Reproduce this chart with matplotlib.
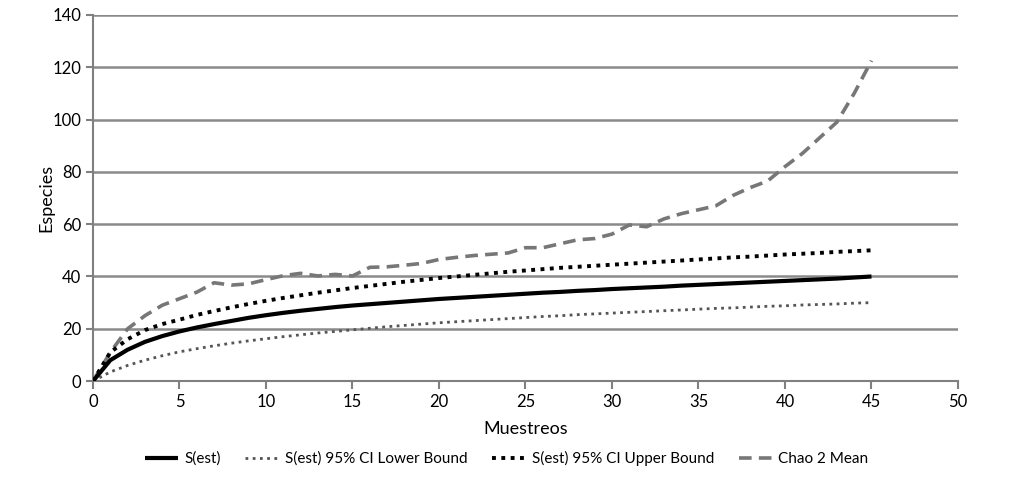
import matplotlib
matplotlib.use("Agg")
import matplotlib.pyplot as plt
from matplotlib import font_manager

samples = list(range(0, 46))
s_est = [0, 8, 12, 15, 17.2, 19, 20.5, 21.8, 23, 24.2, 25.2, 26.1, 26.9, 27.6, 28.3, 28.9,
         29.4, 29.9, 30.4, 30.9, 31.4, 31.8, 32.2, 32.6, 33, 33.4, 33.8, 34.1, 34.5, 34.8,
         35.2, 35.5, 35.8, 36.1, 36.5, 36.8, 37.1, 37.4, 37.7, 38, 38.3, 38.6, 38.9, 39.2,
         39.6, 40]
lower = [0, 3.5, 6, 8, 9.7, 11.2, 12.4, 13.5, 14.5, 15.4, 16.2, 17, 17.7, 18.4, 19, 19.6,
         20.2, 20.8, 21.3, 21.8, 22.3, 22.7, 23.1, 23.5, 23.9, 24.3, 24.7, 25.0, 25.4, 25.7,
         26, 26.3, 26.6, 26.9, 27.2, 27.5, 27.8, 28, 28.3, 28.6, 28.8, 29.1, 29.3, 29.5,
         29.8, 30]
upper = [0, 11, 16, 19.5, 21.8, 23.5, 25.3, 26.8, 28.2, 29.5, 30.7, 31.8, 32.8, 33.8, 34.7,
         35.6, 36.4, 37.2, 38, 38.7, 39.4, 40, 40.6, 41.2, 41.8, 42.3, 42.8, 43.3, 43.7, 44.1,
         44.5, 44.9, 45.3, 45.7, 46.1, 46.5, 46.9, 47.3, 47.6, 48, 48.4, 48.7, 49, 49.4,
         49.7, 50]
chao2 = [0, 11, 20, 25, 29, 31.5, 34, 37.6, 36.7, 37.2, 38.8, 40.3, 41.2, 40.2, 40.8, 40.2,
         43.5, 43.7, 44.3, 45, 46.5, 47.3, 48, 48.5, 49, 51, 51, 52.5, 54, 54.5, 56.2, 59.7,
         59, 62, 64, 65.5, 67, 71, 74, 76.5, 82, 87, 93, 99, 110, 122.5]
labels = ["S(est)", "S(est) 95% CI Lower Bound", "S(est) 95% CI Upper Bound", "Chao 2 Mean"]
x_ticks = [0, 5, 10, 15, 20, 25, 30, 35, 40, 45, 50]
y_ticks = [0, 20, 40, 60, 80, 100, 120, 140]

names = {f.name for f in font_manager.fontManager.ttflist}
fam = [n for n in ["Lato", "Open Sans", "DejaVu Sans"] if n in names]
plt.rcParams['font.family'] = fam

fig = plt.figure(figsize=(10.13, 4.8), dpi=100)
ax = fig.add_axes([0.0918, 0.206, 0.8539, 0.763])

ax.plot(samples, s_est, color="black", lw=3, solid_capstyle="butt", label=labels[0], zorder=5)
ax.plot(samples, lower, color="#555555", lw=2.0, linestyle=(0, (1, 1.6)), label=labels[1], zorder=4)
ax.plot(samples, upper, color="black", lw=2.8, linestyle=(0, (1, 1.4)), label=labels[2], zorder=4)
ax.plot(samples, chao2, color="#777777", lw=2.6, linestyle=(0, (3.5, 2)), label=labels[3], zorder=3)

ax.set_xlim(0, 50)
ax.set_ylim(0, 140)
ax.set_xticks(x_ticks)
ax.set_yticks(y_ticks)
ax.grid(axis="y", color="#8a8a8a", lw=1.8)
ax.set_axisbelow(True)
for s in ["top", "right"]:
    ax.spines[s].set_visible(False)
for s in ["left", "bottom"]:
    ax.spines[s].set_color("#808080")
    ax.spines[s].set_linewidth(1.5)
ax.tick_params(axis="both", colors="#808080", labelcolor="black", labelsize=12, width=1.5)
ax.tick_params(axis="x", length=6, direction="out")
ax.tick_params(axis="y", length=5, direction="out")
ax.set_xlabel("Muestreos", fontsize=13)
ax.set_ylabel("Especies", fontsize=13)
ax.xaxis.set_label_coords(0.5, -0.11)
ax.yaxis.set_label_coords(-0.045, 0.5)

fig.legend(loc="center", bbox_to_anchor=(0.5, 0.045), ncol=4, frameon=False,
           fontsize=11, handlelength=2.2, columnspacing=1.6, handletextpad=0.4)

fig.savefig("out.png", dpi=100)
